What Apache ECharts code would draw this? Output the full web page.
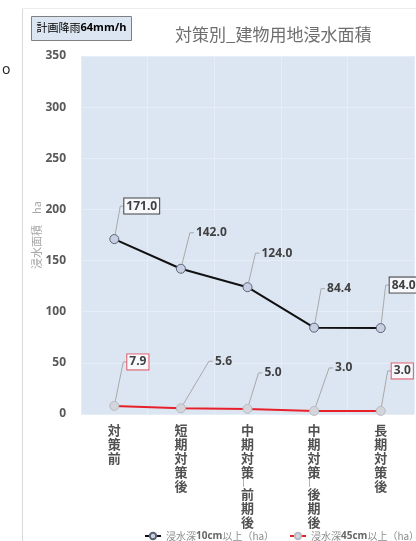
<!DOCTYPE html>
<html>
<head>
<meta charset="utf-8">
<script src="https://cdn.jsdelivr.net/npm/echarts@6/dist/echarts.min.js"></script>
<style>
  html, body { margin: 0; padding: 0; background: #ffffff; }
  #chart { width: 416px; height: 541px; }
</style>
</head>
<body>
<div id="chart"></div>
<script>
// Categories (measure stages) and flooded building-land area per stage
const stages = ['対策前', '短期対策後', '中期対策_前期後', '中期対策_後期後', '長期対策後'];
const depth10cm = [171.0, 142.0, 124.0, 84.4, 84.0];
const depth45cm = [7.9, 5.6, 5.0, 3.0, 3.0];
const seriesNames = ['浸水深10cm以上（ha）', '浸水深45cm以上（ha）'];
const yTicks = { min: 0, max: 350, step: 50 };

// Callout placement: left-middle of each value box, relative to its marker
const callout10 = [[10, -33], [13, -36], [12, -34], [11, -39], [9, -43]];
const callout45 = [[13, -44], [32, -47], [15, -36], [19, -43], [11, -40]];
// Framed callouts and their frame colour
const frame10 = { 0: '#404040', 4: '#404040' };
const frame45 = { 0: '#e05a68', 4: '#e05a68' };

const numFont = '"Open Sans", "Noto Sans CJK JP", sans-serif';
const cjkFont = '"Noto Sans CJK JP", "Noto Sans", sans-serif';

function verticalLabel(text) {
  return text.split('').map(function (ch) {
    return ch === '_' ? '{u|︳}' : ch;
  }).join('\n');
}

// Value box with a thin leader from the marker edge, knee and short stub
function calloutRenderer(offsets, frames) {
  return function (params, api) {
    const i = params.dataIndex;
    const v = api.value(1);
    const pt = api.coord([api.value(0), v]);
    const off = offsets[i];
    const lx = pt[0] + off[0];
    const ly = pt[1] + off[1];
    const kx = lx - 4;
    const dx = kx - pt[0], dy = ly - pt[1];
    const d = Math.sqrt(dx * dx + dy * dy);
    const sx = pt[0] + dx / d * 5, sy = pt[1] + dy / d * 5;
    const frame = frames[i];
    return {
      type: 'group',
      children: [
        {
          type: 'polyline',
          shape: { points: [[sx, sy], [kx, ly], [lx, ly]] },
          style: { stroke: '#a9a9a9', lineWidth: 1, fill: null }
        },
        {
          type: 'text',
          x: lx, y: ly,
          style: {
            text: v.toFixed(1),
            align: 'left',
            verticalAlign: 'middle',
            fontFamily: numFont,
            fontSize: 12,
            fontWeight: 'bold',
            fill: '#404040',
            padding: [2, 2, 1, 2],
            backgroundColor: frame ? '#f6f8fb' : null,
            borderColor: frame || null,
            borderWidth: frame ? 1 : 0
          }
        }
      ]
    };
  };
}

const chart = echarts.init(document.getElementById('chart'), null, { renderer: 'canvas' });

const legendText = {
  fontFamily: cjkFont, fontSize: 10, color: '#8c8c8c',
  rich: {
    a: { fontFamily: cjkFont, fontSize: 10, color: '#8c8c8c' },
    b: { fontFamily: numFont, fontSize: 10, fontWeight: 'bold', color: '#666666' }
  }
};
function legendFormatter(name) {
  return name.replace(/^(\D+)(\d+cm)(.*)$/, '{a|$1}{b|$2}{a|$3}');
}

chart.setOption({
  animation: false,
  backgroundColor: '#ffffff',
  title: {
    text: '対策別_建物用地浸水面積',
    left: 175,
    top: 26,
    padding: 0,
    textStyle: { fontFamily: cjkFont, fontSize: 17, fontWeight: 'normal', color: '#6e6e6e' }
  },
  graphic: [
    { type: 'line', shape: { x1: 22.5, y1: 8, x2: 22.5, y2: 541 }, style: { stroke: '#d9d9d9', lineWidth: 1 } },
    { type: 'line', shape: { x1: 22, y1: 8.5, x2: 416, y2: 8.5 }, style: { stroke: '#ececec', lineWidth: 1 } },
    { type: 'text', left: 2, top: 63, style: { text: 'o', fontSize: 14, fontFamily: numFont, fill: '#222222' } },
    {
      type: 'group', left: 31, top: 16,
      children: [
        { type: 'rect', shape: { x: 0, y: 0, width: 100, height: 24 }, style: { fill: '#dce6f2', stroke: '#808080', lineWidth: 1 } },
        {
          type: 'text', x: 5, y: 6,
          style: {
            text: '{a|計画降雨}{b|64mm/h}',
            rich: {
              a: { fontFamily: cjkFont, fontSize: 11, color: '#707070' },
              b: { fontFamily: numFont, fontSize: 11, fontWeight: 'bold', color: '#404040' }
            }
          }
        }
      ]
    }
  ],
  legend: [
    { left: 139, top: 526, itemWidth: 16, itemHeight: 8, data: [seriesNames[0]], textStyle: legendText, formatter: legendFormatter },
    { left: 284, top: 526, itemWidth: 16, itemHeight: 8, data: [seriesNames[1]], textStyle: legendText, formatter: legendFormatter }
  ],
  grid: {
    left: 81, top: 56, width: 333, height: 358,
    show: true, backgroundColor: '#dce6f2', borderWidth: 0
  },
  xAxis: {
    type: 'category',
    data: stages,
    axisLine: { show: false },
    axisTick: { show: false },
    splitLine: { show: true, lineStyle: { color: '#e6edf6', width: 1 } },
    axisLabel: {
      interval: 0,
      margin: 9,
      fontFamily: cjkFont,
      fontSize: 13,
      fontWeight: 'bold',
      lineHeight: 14,
      color: '#505050',
      formatter: verticalLabel,
      rich: { u: { fontSize: 9, lineHeight: 8, color: '#505050' } }
    }
  },
  yAxis: {
    type: 'value',
    min: yTicks.min, max: yTicks.max, interval: yTicks.step,
    name: '浸水面積　ha',
    nameLocation: 'middle',
    nameRotate: 90,
    nameGap: 39,
    nameMoveOverlap: false,
    nameTextStyle: { fontFamily: cjkFont, fontSize: 11, color: '#a6a6a6' },
    axisLine: { show: false },
    axisTick: { show: false },
    splitLine: { lineStyle: { color: '#e6edf6', width: 1 } },
    axisLabel: { margin: 15, fontFamily: numFont, fontSize: 12, fontWeight: 'bold', color: '#595959' }
  },
  series: [
    {
      name: seriesNames[0],
      type: 'line',
      data: depth10cm,
      symbol: 'circle',
      symbolSize: 9,
      lineStyle: { color: '#111111', width: 2 },
      itemStyle: { color: '#c7cfe3', borderColor: '#5b6274', borderWidth: 1 },
      z: 3
    },
    {
      name: seriesNames[1],
      type: 'line',
      data: depth45cm,
      symbol: 'circle',
      symbolSize: 9,
      lineStyle: { color: '#e8202a', width: 2 },
      itemStyle: { color: '#d3d5da', borderColor: '#b8bac2', borderWidth: 1 },
      z: 2
    },
    {
      type: 'custom',
      silent: true,
      z: 4,
      data: depth10cm.map(function (v, i) { return [i, v]; }),
      encode: { x: 0, y: 1 },
      renderItem: calloutRenderer(callout10, frame10)
    },
    {
      type: 'custom',
      silent: true,
      z: 4,
      data: depth45cm.map(function (v, i) { return [i, v]; }),
      encode: { x: 0, y: 1 },
      renderItem: calloutRenderer(callout45, frame45)
    }
  ]
});
</script>
</body>
</html>
